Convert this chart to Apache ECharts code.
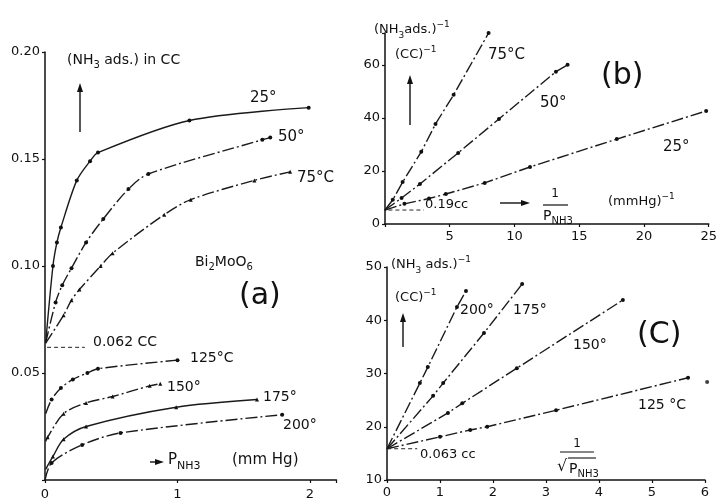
<!DOCTYPE html>
<html><head><meta charset="utf-8">
<script src="https://cdn.jsdelivr.net/npm/echarts@6/dist/echarts.min.js"></script>
<style>html,body{margin:0;background:#fff}#c{width:720px;height:503px}</style>
</head><body><div id="c"></div>
<script>
// ---------- Panel (a): NH3 adsorbed (cc) vs P_NH3 (mmHg) ----------
const a25  = [[0.005,0.064],[0.06,0.100],[0.09,0.111],[0.12,0.118],[0.24,0.140],[0.34,0.149],[0.40,0.153],[1.09,0.168],[1.99,0.174]];
const a50  = [[0.005,0.064],[0.08,0.083],[0.13,0.091],[0.20,0.099],[0.31,0.111],[0.44,0.122],[0.63,0.136],[0.78,0.143],[1.64,0.159],[1.70,0.160]];
const a75  = [[0.005,0.064],[0.14,0.077],[0.20,0.084],[0.26,0.089],[0.42,0.100],[0.51,0.106],[0.90,0.124],[1.10,0.131],[1.58,0.140],[1.85,0.144]];
const a125 = [[0.005,0.031],[0.05,0.0376],[0.12,0.043],[0.21,0.047],[0.32,0.050],[0.40,0.052],[1.0,0.056]];
const a150 = [[0.005,0.018],[0.02,0.020],[0.14,0.031],[0.31,0.036],[0.51,0.039],[0.79,0.044],[0.87,0.045]];
const a175 = [[0.005,0.005],[0.06,0.011],[0.14,0.019],[0.31,0.025],[0.99,0.034],[1.60,0.0376]];
const a200 = [[0.0,0.0],[0.05,0.008],[0.28,0.0164],[0.57,0.022],[1.79,0.0305]];
const aIntercept = [[-0.09,0.062],[0.30,0.062]];

// ---------- Panel (b): 1/(NH3 ads) vs 1/P ----------
const b75 = [[0,5.26],[0.6,9.1],[1.36,15.8],[2.8,27.2],[3.9,37.7],[5.3,48.7],[8.0,72]];
const b50 = [[0,5.26],[1.28,9.8],[2.7,15.1],[5.65,26.8],[8.8,39.6],[13.2,57.4],[14.1,60]];
const b25 = [[0,5.26],[1.5,7.6],[3.4,9.6],[4.7,11.3],[7.7,15.5],[11.2,21.5],[17.9,32],[24.8,42.6]];
const bIntercept = [[-1.9,5.26],[3.0,5.26]];

// ---------- Panel (c): 1/(NH3 ads) vs 1/sqrt(P) ----------
const c200 = [[0,15.87],[0.62,28.2],[0.77,31.2],[1.32,42.5],[1.49,45.5]];
const c175 = [[0,15.87],[0.87,25.8],[1.06,28.2],[1.83,37.6],[2.55,46.8]];
const c150 = [[0,15.87],[1.15,22.6],[1.42,24.4],[2.45,31],[4.45,43.8]];
const c125 = [[0,15.87],[1.0,18.1],[1.57,19.4],[1.89,20.0],[3.19,23.1],[5.68,29.2]];
const c125extra = [[6.04,28.4]];
const cIntercept = [[-0.13,15.87],[0.57,15.87]];

const F = "'DejaVu Sans', 'Liberation Sans', sans-serif";
const INK = '#111';

function rich(size){
  return {
    s:{fontSize:Math.round(size*0.72), fontFamily:F, fill:INK, verticalAlign:'bottom', lineHeight:Math.round(size*0.85)},
    p:{fontSize:Math.round(size*0.72), fontFamily:F, fill:INK, verticalAlign:'top', lineHeight:Math.round(size*0.85)}
  };
}
function T(x, y, text, size, align){
  size = size || 14;
  return {type:'text', x:x, y:y, z:50, style:{text:text, fontSize:size, fontFamily:F, fill:INK,
    align:align||'left', verticalAlign:'middle', lineHeight:Math.round(size*1.5), rich:rich(size)}};
}
function L(x1,y1,x2,y2,w){
  return {type:'line', z:50, shape:{x1:x1,y1:y1,x2:x2,y2:y2}, style:{stroke:INK, lineWidth:w||1.4}};
}
function arrowUp(x, yBottom, yTop){
  return [L(x,yBottom,x,yTop+6),
    {type:'polygon', z:50, shape:{points:[[x,yTop],[x-3,yTop+9],[x+3,yTop+9]]}, style:{fill:INK}}];
}
function arrowRight(x1, x2, y){
  return [L(x1,y,x2-6,y),
    {type:'polygon', z:50, shape:{points:[[x2,y],[x2-9,y-3],[x2-9,y+3]]}, style:{fill:INK}}];
}

const axisLbl = {fontSize:13, color:INK, fontFamily:F};
const axLine = {lineStyle:{color:INK, width:1.5}};
const axTick = {length:3, lineStyle:{color:INK, width:1.2}};

function symSize(v, p){ return p.dataIndex === 0 ? 0 : 4; }
function curve(data, xi, sym, dash, smooth){
  return {type:'line', data:data, xAxisIndex:xi, yAxisIndex:xi, smooth:smooth?0.3:false,
    symbol:sym||'circle', symbolSize:symSize, showSymbol:true,
    lineStyle:{color:'#1a1a1a', width:1.4, type:dash||'solid'}, itemStyle:{color:INK},
    clip:false, silent:true, animation:false};
}
function dashed(data, xi){
  return {type:'line', data:data, xAxisIndex:xi, yAxisIndex:xi, symbol:'none',
    lineStyle:{color:'#222', width:1, type:[4,3]}, clip:false, silent:true, animation:false};
}
const DD = [12,3,2,3];

const graphics = [
  // panel (a)
  T(67,60,'(NH{s|3} ads.) in CC',14),
  ...arrowUp(80,132,83),
  T(250,98,'25°',15), T(278,137,'50°',15), T(297,178,'75°C',15),
  T(195,262,'Bi{s|2}MoO{s|6}',14),
  T(239,296,'(a)',30),
  T(93,342,'0.062 CC',14),
  T(190,358,'125°C',14), T(167,387,'150°',14), T(263,397,'175°',14), T(283,425,'200°',14),
  ...arrowRight(150,164,462),
  T(168,460,'P{s|NH3}',15), T(232,460,'(mm Hg)',15),
  // panel (b)
  T(374,30,'(NH{s|3}ads.){p|−1}',13),
  T(395,55,'(CC){p|−1}',13),
  ...arrowUp(410,125,75),
  T(488,55,'75°C',15), T(540,103,'50°',15), T(663,147,'25°',15),
  T(601,76,'(b)',30),
  T(425,205,'0.19cc',13),
  ...arrowRight(500,530,203),
  T(555,194,'1',12,'center'), L(543,205,568,205,1.2), T(543,216,'P{s|NH3}',14),
  T(608,202,'(mmHg){p|−1}',13),
  // panel (c)
  T(391,265,'(NH{s|3} ads.){p|−1}',13),
  T(395,298,'(CC){p|−1}',13),
  ...arrowUp(403,347,313),
  T(460,310,'200°',14), T(513,310,'175°',14), T(573,345,'150°',14),
  T(637,335,'(C)',30),
  T(638,405,'125 °C',14),
  T(420,455,'0.063 cc',13),
  T(577,444,'1',12,'center'), L(560,452,594,452,1.2),
  T(557,467,'√',16), L(568,458,596,458,1.1), T(569,469,'P{s|NH3}',14)
];

const option = {
  backgroundColor:'#fff',
  animation:false,
  grid:[
    {left:45, top:52, width:291.5, height:428},
    {left:385, top:33, width:331, height:191},
    {left:387, top:267, width:318, height:213}
  ],
  xAxis:[
    {type:'value', gridIndex:0, min:0, max:2.2, interval:1, axisLine:axLine, axisTick:axTick, splitLine:{show:false},
      axisLabel:Object.assign({margin:8, formatter:v=>Number.isInteger(v)?String(v):''}, axisLbl)},
    {type:'value', gridIndex:1, min:0, max:25, interval:5, axisLine:axLine, axisTick:axTick, splitLine:{show:false},
      axisLabel:Object.assign({margin:6, formatter:v=>v===0?'':String(v)}, axisLbl)},
    {type:'value', gridIndex:2, min:0, max:6, interval:1, axisLine:axLine, axisTick:axTick, splitLine:{show:false},
      axisLabel:Object.assign({margin:6}, axisLbl)}
  ],
  yAxis:[
    {type:'value', gridIndex:0, min:0, max:0.2, interval:0.05, axisLine:axLine, axisTick:axTick, splitLine:{show:false},
      axisLabel:Object.assign({margin:5, formatter:v=>v===0?'':v.toFixed(2)}, axisLbl)},
    {type:'value', gridIndex:1, min:0, max:72, interval:20, axisLine:axLine, axisTick:axTick, splitLine:{show:false},
      axisLabel:Object.assign({margin:5, formatter:v=>v>70?'':String(v)}, axisLbl)},
    {type:'value', gridIndex:2, min:10, max:50, interval:10, axisLine:axLine, axisTick:axTick, splitLine:{show:false},
      axisLabel:Object.assign({margin:5}, axisLbl)}
  ],
  series:[
    curve(a25,0,'circle','solid',true),
    curve(a50,0,'circle',DD,true),
    curve(a75,0,'triangle',DD,true),
    curve(a125,0,'circle',DD,true),
    curve(a150,0,'triangle',DD,true),
    curve(a175,0,'triangle','solid',true),
    curve(a200,0,'circle',DD,true),
    dashed(aIntercept,0),
    curve(b75,1,'circle',DD,false),
    curve(b50,1,'circle',DD,false),
    curve(b25,1,'circle',DD,false),
    dashed(bIntercept,1),
    curve(c200,2,'circle',DD,false),
    curve(c175,2,'circle',DD,false),
    curve(c150,2,'circle',DD,false),
    curve(c125,2,'circle',DD,false),
    {type:'scatter', data:c125extra, xAxisIndex:2, yAxisIndex:2, symbolSize:4, itemStyle:{color:INK}, clip:false, silent:true},
    dashed(cIntercept,2)
  ],
  graphic:graphics
};
const chart = echarts.init(document.getElementById('c'), null, {renderer:'canvas'});
chart.setOption(option);
</script></body></html>
